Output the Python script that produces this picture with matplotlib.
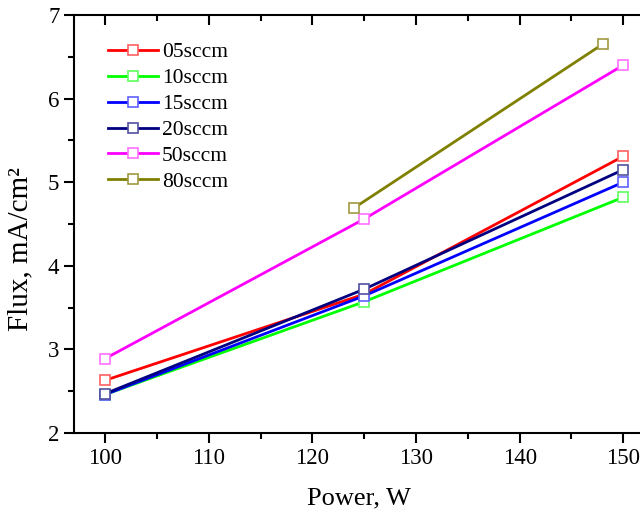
import numpy as np
import matplotlib
matplotlib.use('Agg')
import matplotlib.pyplot as plt
from matplotlib.ticker import MultipleLocator

plt.rcParams['font.family'] = ['Liberation Serif', 'DejaVu Serif']

# data
labels = ['05sccm', '10sccm', '15sccm', '20sccm', '50sccm', '80sccm']
x_05 = [100, 125, 150]; y_05 = [2.63, 3.66, 5.31]
x_10 = [100, 125, 150]; y_10 = [2.46, 3.57, 4.82]
x_15 = [100, 125, 150]; y_15 = [2.46, 3.64, 5.00]
x_20 = [100, 125, 150]; y_20 = [2.47, 3.72, 5.15]
x_50 = [100, 125, 150]; y_50 = [2.89, 4.56, 6.40]
x_80 = [124, 148]; y_80 = [4.69, 6.65]

xs = [x_05, x_10, x_15, x_20, x_50, x_80]
ys = [y_05, y_10, y_15, y_20, y_50, y_80]
line_colors = ['#ff0000', '#00ff00', '#0000ff', '#000080', '#ff00ff', '#808000']
mark_colors = ['#ff6060', '#60ff60', '#6060ff', '#5050a0', '#ff70ff', '#a09a40']

fig = plt.figure(figsize=(6.4, 5.16), dpi=100)
ax = fig.add_axes([74 / 640, 83 / 516, (644 - 74) / 640, 418 / 516])

for x, y, lc, mc, lab in zip(xs, ys, line_colors, mark_colors, labels):
    ax.plot(x, y, color=lc, lw=2, marker='s', ms=7.5, mfc='white',
            mec=mc, mew=1.2, label=lab, clip_on=False)

ax.set_xlim(97, 152)
ax.set_ylim(2, 7)
ax.xaxis.set_major_locator(MultipleLocator(10))
ax.xaxis.set_minor_locator(MultipleLocator(5))
ax.yaxis.set_major_locator(MultipleLocator(1))
ax.yaxis.set_minor_locator(MultipleLocator(0.5))

for s in ax.spines.values():
    s.set_linewidth(1.5)

# bottom/left ticks outward, top/right ticks inward
ax.tick_params(which='both', direction='out', width=1.5, labelsize=16.5)
ax.tick_params(which='major', length=7)
ax.tick_params(which='minor', length=4)
ax.tick_params(which='both', top=True, right=True)
for t in ax.xaxis.get_major_ticks() + ax.xaxis.get_minor_ticks():
    t.tick2line.set_marker(3)
for t in ax.yaxis.get_major_ticks() + ax.yaxis.get_minor_ticks():
    t.tick2line.set_marker(1)

ax.set_xlabel('Power, W', fontsize=19)
ax.set_ylabel('Flux, mA/cm²', fontsize=21)
ax.xaxis.set_label_coords(0.5, -0.13)
ax.yaxis.set_label_coords(-0.072, 0.44)

leg = ax.legend(loc='upper left', bbox_to_anchor=(0.045, 0.955), frameon=False,
                fontsize=15.5, handlelength=2.3, handletextpad=0.2,
                labelspacing=0.27, borderaxespad=0)

fig.savefig('out.png', dpi=100)
